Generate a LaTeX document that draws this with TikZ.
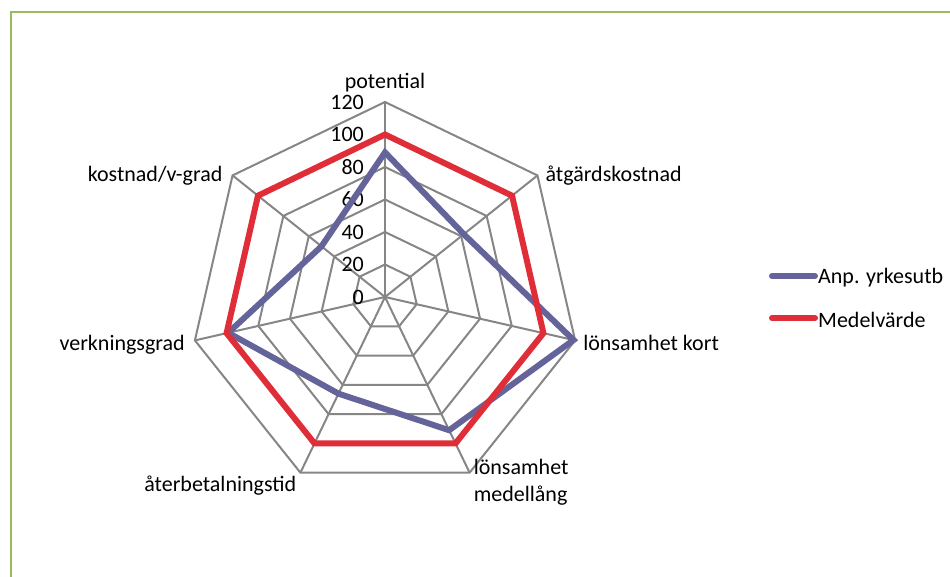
\documentclass[tikz,border=0pt]{standalone}
\usepackage{fontspec}
\setmainfont{Carlito}
\usepackage{xcolor}
\usetikzlibrary{positioning}
\definecolor{gridgray}{RGB}{134,134,134}
\definecolor{anpblue}{RGB}{100,100,154}
\definecolor{medelred}{RGB}{224,46,56}
\definecolor{framegreen}{RGB}{155,187,89}
\tikzset{
	gridline/.style={draw=gridgray, line width=2pt},
	serie/.style={line width=6pt, line join=miter},
	chartlabel/.style={font=\fontsize{22}{27}\selectfont, inner sep=0pt},
	ticklabel/.style={chartlabel, anchor=east}
}

\begin{document}
\begin{tikzpicture}[x=1pt, y=1pt]
	\useasboundingbox (0,0) rectangle (950,576);
	
	%Frame
	\draw[framegreen, line width=2.5pt] (11,-5) -- (11,564) -- (960,564);
	
	\begin{scope}[shift={(385,279)}]
		%Grid
		\foreach \v in {20,40,...,120}
			\draw[gridline] (90:{\v*1.625}) \foreach \i in {1,...,6} { -- ({90-\i*360/7}:{\v*1.625}) } -- cycle;
		\foreach \i in {0,...,6} {
			\coordinate (v\i) at ({90-\i*360/7}:195);
			\draw[gridline] (0,0) -- (v\i);
		}
		
		%Ticks
		\foreach \v in {0,20,...,120}
			\node[ticklabel] (tick\v) at (-21,{\v*1.625}) {\v};
		
		%Series
		\foreach \v [count=\i from 0] in {89,62,119,91,66,99,50}
			\coordinate (b\i) at ({90-\i*360/7}:{\v*1.625});
		\foreach \v [count=\i from 0] in {100,100,100,100,100,100,100}
			\coordinate (r\i) at ({90-\i*360/7}:{\v*1.625});
		\draw[serie, anpblue] (b0) -- (b1) -- (b2) -- (b3) -- (b4) -- (b5) -- (b6) -- cycle;
		\draw[serie, medelred] (r0) -- (r1) -- (r2) -- (r3) -- (r4) -- (r5) -- (r6) -- cycle;
		
		%Axis labels
		\node[chartlabel, above=10pt of v0]      (potential) {potential};
		\node[chartlabel, right=8pt of v1]      (atgard)    {åtgärdskostnad};
		\node[chartlabel, right=8pt of v2, yshift=-3pt] (lonkort) {lönsamhet kort};
		\node[chartlabel, anchor=north west, align=left] (lonmedel) at ([shift={(4,14)}]v3) {lönsamhet\\medellång};
		\node[chartlabel, anchor=north east] (aterbet) at ([shift={(-4,-3)}]v4) {återbetalningstid};
		\node[chartlabel, left=10pt of v5, yshift=-4pt] (verkn) {verkningsgrad};
		\node[chartlabel, left=10pt of v6] (kostnad) {kostnad/v-grad};
	\end{scope}
	
	%Legend
	\node[chartlabel, anchor=west] (legblue) at (818,298) {Anp. yrkesutb};
	\node[chartlabel, anchor=west] (legred)  at (818,256) {Medelvärde};
	\draw[anpblue, line width=6pt, line cap=round] (legblue.west) ++(-3,2) -- ++(-43,0);
	\draw[medelred, line width=6pt, line cap=round] (legred.west) ++(-3,2) -- ++(-43,0);
\end{tikzpicture}
\end{document}
